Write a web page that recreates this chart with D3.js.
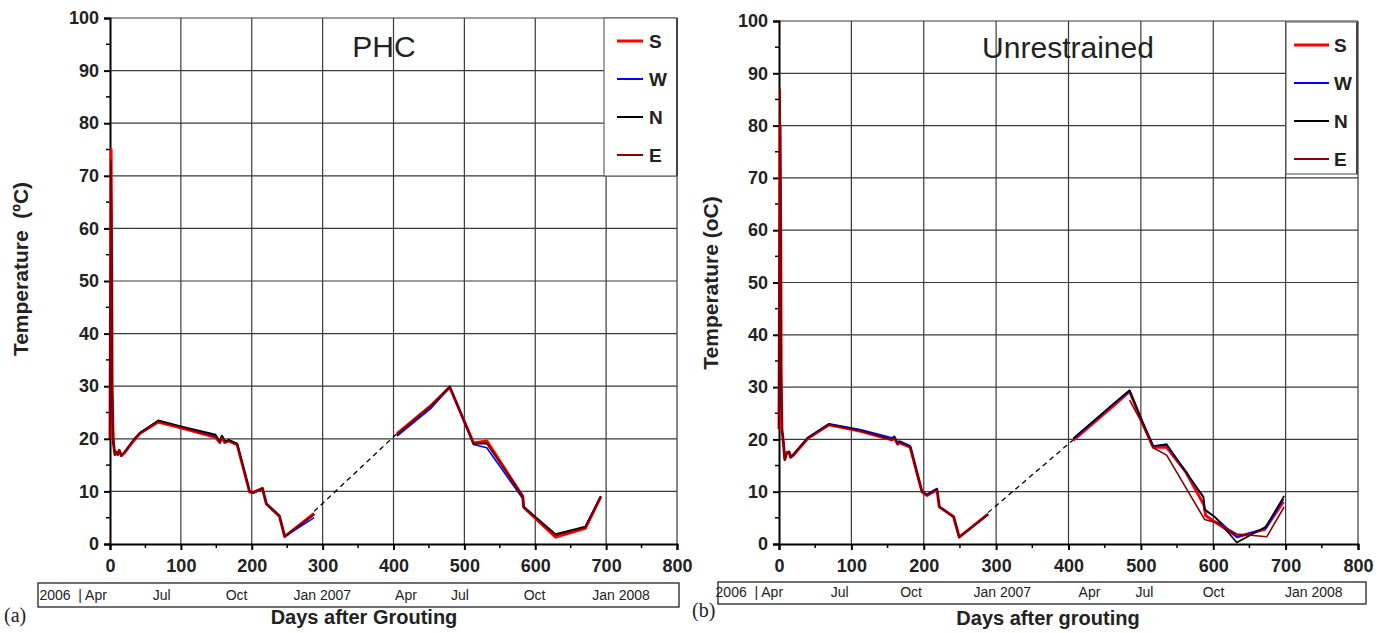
<!DOCTYPE html>
<html>
<head>
<meta charset="utf-8">
<script src="https://cdn.jsdelivr.net/npm/d3@7"></script>
<style>
  html, body { margin: 0; padding: 0; background: #fff; }
  svg { display: block; }
</style>
</head>
<body>
<svg id="chart" width="1387" height="633"></svg>
<script>
// ---- Temperature records (days after grouting, temperature in °C) ----

// Panel (a) PHC
const phcS = [[0,20],[1.5,75],[2.5,50],[3,31],[4,22],[5,19],[7,17],[9,17.5],[11,17],[13,17.8],[16,16.8],[20,17.3],[32,19.4],[42,21],[68,23.2],[100,22.1],[149,20.3],[155,19.3],[158,20.4],[162,19.3],[167.5,19.6],[179.4,18.9],[197,9.9],[202,9.8],[215,10.6],[220.7,7.6],[239,5.3],[246.5,1.4],[288,5.8],[405,21],[453.6,26.4],[479.4,29.8],[513,19.2],[531.6,19.6],[582.5,9.0],[583.6,7.0],[628.7,1.3],[670.6,3.0],[692.6,9.0]];
const phcW = [[0,20],[1.5,70],[2.5,48],[3,30],[4,21],[5,19],[7,17],[9,17.5],[11,17],[13,17.8],[16,16.8],[20,17.3],[32,19.6],[42,21.1],[68,23.4],[100,22.3],[149,20.6],[155,19.4],[158,20.5],[162,19.4],[167.5,19.7],[179.4,19],[197,10],[202,9.7],[215,10.5],[220.7,7.6],[239,5.3],[246.5,1.4],[288,5.0],[405,20.5],[453.6,25.9],[479.4,29.8],[513,18.9],[531.6,18.3],[582.5,8.6],[583.6,7.0],[628.7,1.7],[670.6,3.2],[692.6,9.0]];
const phcN = [[0,20],[1.5,72],[2.5,49],[3,30],[4,21],[5,19],[7,17],[9,17.5],[11,17],[13,17.8],[16,16.8],[20,17.3],[32,19.6],[42,21.1],[68,23.5],[100,22.4],[149,20.8],[155,19.5],[158,20.6],[162,19.5],[167.5,19.8],[179.4,19.1],[197,10],[202,9.7],[215,10.6],[220.7,7.7],[239,5.4],[246.5,1.5],[288,5.6],[405,20.8],[453.6,26.3],[479.4,30.0],[513,19.0],[531.6,19.1],[582.5,9.1],[583.6,7.1],[628.7,1.9],[670.6,3.3],[692.6,9.1]];
const phcE = [[0,20],[1.5,73],[2.5,49],[3,31],[4,22],[5,19],[7,17],[9,17.5],[11,17],[13,17.8],[16,16.8],[20,17.3],[32,19.5],[42,21],[68,23.3],[100,22.2],[149,20.4],[155,19.3],[158,20.4],[162,19.3],[167.5,19.6],[179.4,18.9],[197,9.9],[202,9.7],[215,10.5],[220.7,7.6],[239,5.3],[246.5,1.4],[288,5.7],[405,20.9],[453.6,26.3],[479.4,29.8],[513,19.1],[531.6,19.3],[582.5,8.8],[583.6,6.9],[628.7,1.6],[670.6,3.1],[692.6,9.0]];
// dashed link across the winter gap in readings
const phcGap = [[288,6.2],[405,21]];

// Panel (b) Unrestrained
const unrS = [[0,22],[1.5,80],[2.5,55],[3,33],[4,22],[6,19.5],[8,16.2],[11,17.5],[14,17.6],[16,16.6],[20,17],[40,20.2],[69,22.8],[112,21.6],[156,19.9],[159.6,20.3],[163.8,19.1],[166.5,19.4],[181.3,18.5],[197.5,10],[204.4,9.3],[218.3,10.4],[221.5,7.1],[241.3,5.2],[249,1.3],[288.8,5.7],[406.5,19.8],[462.7,26.5],[484.4,29.2],[502,23.2],[517,18.5],[535.6,18.5],[562,13.8],[587,7.5],[589.6,5.4],[633.5,1.4],[671,2.8],[697,8.1]];
const unrW = [[0,22],[1.5,78],[2.5,52],[3,32],[4,22],[6,19.5],[8,16.2],[11,17.5],[14,17.6],[16,16.6],[20,17.2],[40,20.4],[69,23.0],[112,21.9],[156,20.3],[159.6,20.6],[163.8,19.4],[166.5,19.7],[181.3,18.8],[197.5,10.1],[204.4,9.5],[218.3,10.6],[221.5,7.2],[241.3,5.2],[249,1.3],[288.8,5.6],[406.5,20.0],[462.7,26.8],[484.4,29.3],[502,23.4],[517,18.8],[535.6,18.9],[552.7,15.6],[586.4,9.0],[588,6.6],[602,5.2],[632.5,1.3],[672.6,3.0],[697,8.6]];
const unrN = [[0,22],[1.5,76],[2.5,50],[3,31],[4,22],[6,19.5],[8,16.2],[11,17.5],[14,17.6],[16,16.6],[20,17.1],[40,20.3],[69,22.9],[112,21.7],[156,20.0],[159.6,20.4],[163.8,19.2],[166.5,19.5],[181.3,18.6],[197.5,10],[204.4,9.4],[218.3,10.5],[221.5,7.1],[241.3,5.2],[249,1.3],[288.8,5.7],[406.5,20.2],[462.7,26.9],[484.4,29.4],[502,23.4],[517,18.7],[535.6,19.1],[552.7,15.7],[586.4,9.0],[588,6.6],[602,5.2],[632.5,0.3],[672.6,3.3],[698,9.2]];
const unrE = [[0,22],[1.5,87],[2.5,60],[3,35],[4,22],[6,19.5],[8,16.0],[11,17.5],[14,17.6],[16,16.5],[20,17],[40,20.2],[69,22.8],[112,21.6],[156,19.9],[159.6,20.3],[163.8,19.1],[166.5,19.4],[181.3,18.5],[197.5,10],[204.4,9.3],[218.3,10.4],[221.5,7.1],[241.3,5.2],[249,1.3],[288.8,5.7],[406.5,19.7],[484.4,27.5],[502,23],[517,18.4],[535.6,17.0],[588,4.7],[605.7,4.0],[632.5,1.9],[674,1.4],[698,7.1]];
const unrGap = [[288.8,6.0],[406.5,19.9]];

// Axis ticks and labels
const dayTicks = [0, 100, 200, 300, 400, 500, 600, 700, 800];
const dayMinor = [50, 150, 250, 350, 450, 550, 650, 750];
const tempTicks = [0, 10, 20, 30, 40, 50, 60, 70, 80, 90, 100];
const tempMinor = [5, 15, 25, 35, 45, 55, 65, 75, 85, 95];

// Calendar labels under the day axis, placed at their day value
const monthNamesA = ["2006  | Apr", "Jul", "Oct", "Jan 2007", "Apr", "Jul", "Oct", "Jan 2008"];
const monthDaysA  = [-52, 73, 178.6, 299.5, 417.6, 493.6, 599, 721];
const monthNamesB = ["2006  | Apr", "Jul", "Oct", "Jan 2007", "Apr", "Jul", "Oct", "Jan 2008"];
const monthDaysB  = [-41, 84, 182.5, 308.5, 429, 505, 600.5, 739];

const seriesNames = ["S", "W", "N", "E"];
const seriesColors = ["#ff0000", "#0000ff", "#000000", "#8b0000"];
const seriesWidths = [3, 1.6, 1.6, 1.6];

// readings more than this many days apart are not joined by a solid line
const MAX_STEP = 60;

const svg = d3.select("#chart");
const SANS = "'Liberation Sans', Arial, Helvetica, sans-serif";
const NARROW = "'Liberation Sans Narrow', 'Arial Narrow', 'Liberation Sans', sans-serif";

function splitRuns(series) {
  const runs = [[series[0]]];
  for (let i = 1; i < series.length; i++) {
    if (series[i][0] - series[i - 1][0] > MAX_STEP) runs.push([]);
    runs[runs.length - 1].push(series[i]);
  }
  return runs;
}

function drawPanel(cfg) {
  const x = d3.scaleLinear().domain([0, 800]).range([cfg.left, cfg.right]);
  const y = d3.scaleLinear().domain([0, 100]).range([cfg.bottom, cfg.top]);
  const g = svg.append("g");

  // grid
  g.append("g").selectAll("line").data(tempTicks.slice(1)).join("line")
    .attr("x1", cfg.left).attr("x2", cfg.right)
    .attr("y1", d => y(d)).attr("y2", d => y(d))
    .attr("stroke", "#3a3a3a").attr("stroke-width", 1.2);
  g.append("g").selectAll("line").data(dayTicks.slice(1)).join("line")
    .attr("x1", d => x(d)).attr("x2", d => x(d))
    .attr("y1", cfg.top).attr("y2", cfg.bottom)
    .attr("stroke", "#3a3a3a").attr("stroke-width", 1.2);

  // axes
  const yAxis = d3.axisLeft(y).tickValues(tempTicks).tickSize(6).tickFormat(d3.format("d"));
  const yAx = g.append("g").attr("transform", `translate(${cfg.left},0)`).call(yAxis);
  yAx.select(".domain").attr("stroke-width", 2);
  yAx.selectAll(".tick line").attr("stroke-width", 2);
  yAx.selectAll("text").attr("font-family", SANS).attr("font-weight", "bold")
    .attr("font-size", 18).attr("fill", "#222").attr("x", -11);
  yAx.append("g").selectAll("line").data(tempMinor).join("line")
    .attr("x1", -4).attr("x2", 0).attr("y1", d => y(d)).attr("y2", d => y(d))
    .attr("stroke", "#000").attr("stroke-width", 1.5);

  const xAxis = d3.axisBottom(x).tickValues(dayTicks).tickSize(6).tickFormat(d3.format("d"));
  const xAx = g.append("g").attr("transform", `translate(0,${cfg.bottom})`).call(xAxis);
  xAx.select(".domain").attr("stroke-width", 2);
  xAx.selectAll(".tick line").attr("stroke-width", 2);
  xAx.selectAll("text").attr("font-family", SANS).attr("font-weight", "bold")
    .attr("font-size", 18).attr("fill", "#222").attr("y", 15);
  xAx.append("g").selectAll("line").data(dayMinor).join("line")
    .attr("x1", d => x(d)).attr("x2", d => x(d)).attr("y1", 0).attr("y2", 4)
    .attr("stroke", "#000").attr("stroke-width", 1.5);

  // series lines
  const line = d3.line().x(d => x(d[0])).y(d => y(d[1]));
  g.append("path").datum(cfg.gap).attr("d", line).attr("fill", "none")
    .attr("stroke", "#000").attr("stroke-width", 1.3).attr("stroke-dasharray", "5,4");
  cfg.series.forEach((s, i) => {
    g.append("g").selectAll("path").data(splitRuns(s)).join("path")
      .attr("d", line).attr("fill", "none")
      .attr("stroke", seriesColors[i]).attr("stroke-width", seriesWidths[i])
      .attr("stroke-linejoin", "round");
  });

  // legend
  const L = cfg.legend;
  g.append("rect").attr("x", L.x).attr("y", L.y).attr("width", L.w).attr("height", L.h)
    .attr("fill", "#fff").attr("stroke", "#666").attr("stroke-width", 1.2);
  g.append("line").attr("x1", L.x + L.w).attr("x2", L.x + L.w)
    .attr("y1", L.y).attr("y2", L.y + L.h).attr("stroke", "#444").attr("stroke-width", 2);
  seriesNames.forEach((n, i) => {
    const ly = L.y + 23 + i * 38;
    g.append("line").attr("x1", L.x + L.lx0).attr("x2", L.x + L.lx1)
      .attr("y1", ly).attr("y2", ly)
      .attr("stroke", seriesColors[i]).attr("stroke-width", i === 0 ? 3 : 2);
    g.append("text").attr("x", L.x + L.tx).attr("y", ly + 7)
      .attr("font-family", SANS).attr("font-weight", "bold").attr("font-size", 19)
      .attr("fill", "#222").text(n);
  });

  // title
  g.append("text").attr("x", cfg.titleX).attr("y", cfg.titleY).attr("text-anchor", "middle")
    .attr("font-family", SANS).attr("font-size", 30).attr("fill", "#222").text(cfg.title);

  // y title
  g.append("text").attr("transform", `translate(${cfg.yTitleX},${cfg.yTitleY}) rotate(-90)`)
    .attr("text-anchor", "middle").attr("font-family", SANS).attr("font-weight", "bold")
    .attr("font-size", 21).attr("fill", "#222").attr("xml:space", "preserve").text(cfg.yTitle);

  // calendar strip
  const B = cfg.dateBox;
  g.append("rect").attr("x", B.x0).attr("y", B.y0).attr("width", B.x1 - B.x0).attr("height", B.y1 - B.y0)
    .attr("fill", "#fff").attr("stroke", "#222").attr("stroke-width", 1.3);
  g.append("g").selectAll("text").data(cfg.monthNames).join("text")
    .attr("x", (d, i) => x(cfg.monthDays[i])).attr("y", B.y1 - 7)
    .attr("text-anchor", "middle").attr("font-family", NARROW).attr("font-size", 14)
    .attr("fill", "#222").attr("xml:space", "preserve").text(d => d);

  // x title
  g.append("text").attr("x", cfg.xTitleX).attr("y", cfg.xTitleY).attr("text-anchor", "middle")
    .attr("font-family", SANS).attr("font-weight", "bold").attr("font-size", 20)
    .attr("fill", "#222").text(cfg.xTitle);

  // panel letter
  g.append("text").attr("x", cfg.letterX).attr("y", cfg.letterY)
    .attr("font-family", "'Liberation Serif', 'Times New Roman', serif").attr("font-size", 20)
    .attr("fill", "#222").text(cfg.letter);
}

drawPanel({
  left: 110, right: 677, top: 18, bottom: 544,
  series: [phcS, phcW, phcN, phcE], gap: phcGap,
  legend: { x: 604, y: 18, w: 73, h: 158, lx0: 13, lx1: 39, tx: 45 },
  title: "PHC", titleX: 384, titleY: 57,
  yTitle: "Temperature  (ºC)", yTitleX: 28, yTitleY: 269,
  dateBox: { x0: 38, x1: 679, y0: 583, y1: 607 },
  monthNames: monthNamesA, monthDays: monthDaysA,
  xTitle: "Days after Grouting", xTitleX: 364, xTitleY: 624,
  letter: "(a)", letterX: 4, letterY: 622
});

drawPanel({
  left: 779, right: 1358, top: 21, bottom: 544,
  series: [unrS, unrW, unrN, unrE], gap: unrGap,
  legend: { x: 1286, y: 22, w: 71, h: 152, lx0: 8, lx1: 43, tx: 48 },
  title: "Unrestrained", titleX: 1068, titleY: 58,
  yTitle: "Temperature (oC)", yTitleX: 718, yTitleY: 283,
  dateBox: { x0: 718, x1: 1366, y0: 582, y1: 604 },
  monthNames: monthNamesB, monthDays: monthDaysB,
  xTitle: "Days after grouting", xTitleX: 1048, xTitleY: 625,
  letter: "(b)", letterX: 692, letterY: 617
});
</script>
</body>
</html>
